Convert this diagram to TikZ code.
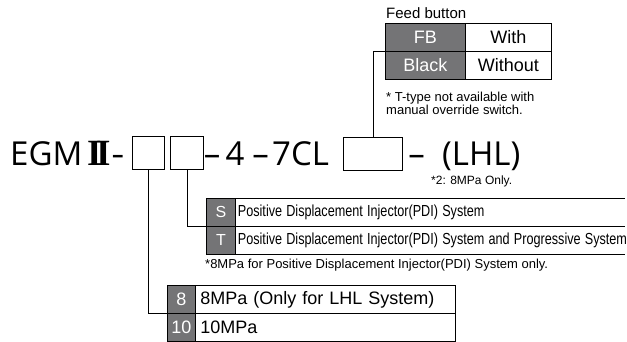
\documentclass[tikz,border=0pt]{standalone}
\usepackage{fontspec}
\setmainfont{Liberation Sans}
\newfontfamily\egmfont{Open Sans}
\newfontfamily\romanfont{Liberation Serif}
\definecolor{cellgray}{RGB}{116,116,118}
\newcommand{\narrowtext}[1]{\scalebox{0.79}[1]{#1}}

\begin{document}
\begin{tikzpicture}[x=1pt,y=1pt,yscale=-1,
	code/.style={font=\egmfont\fontsize{33}{33}\selectfont,inner sep=0pt,anchor=base west},
	slot/.style={draw,line width=1.3pt,minimum width=#1,minimum height=33pt,inner sep=0pt,anchor=north west},
	key/.style={draw,fill=cellgray,text=white,inner sep=0pt,anchor=north west,line width=0.8pt},
	val/.style={draw,inner sep=0pt,anchor=north west,line width=0.8pt,align=left},
	note/.style={inner sep=0pt,anchor=west,font=\fontsize{13}{13.5}\selectfont}]
			\useasboundingbox (0,0) rectangle (627,342);

			% feed button
			\node[note,font=\fontsize{15}{15}\selectfont] (feed) at (386,13) {Feed button};
			\node[key,minimum width=80pt,minimum height=28pt,font=\fontsize{18}{18}\selectfont] (fb) at (385,23) {FB};
			\node[val,minimum width=86pt,minimum height=28pt,font=\fontsize{18}{18}\selectfont] (with) at (465,23) {With};
			\node[key,minimum width=80pt,minimum height=28pt,font=\fontsize{18}{18}\selectfont] (black) at (385,51) {Black};
			\node[val,minimum width=86pt,minimum height=28pt,font=\fontsize{18}{18}\selectfont] (without) at (465,51) {Without};
			\node[note,align=left] (ttype) at (386,103.5) {* T-type not available with\\manual override switch.};

			% model code
			\node[code] (egm) at (10,166) {EGM};
			\node[code,font=\romanfont\bfseries\fontsize{37}{37}\selectfont] (roman) at (87,166) {I\kern-5pt I};
			\node[code,anchor=base] (dasha) at (118,166) {\scalebox{0.7}[1]{–}};
			\node[slot=32pt] (box1) at (132,136) {};
			\node[slot=33pt] (box2) at (170,136) {};
			\node[code,anchor=base] (dashb) at (212,166) {–};
			\node[code,anchor=base] (four) at (235,166) {4};
			\node[code,anchor=base] (dashc) at (260.5,166) {–};
			\node[code] (seven) at (272,166) {7CL};
			\node[slot=59pt] (box3) at (343,137) {};
			\node[code,anchor=base] (dashd) at (416.5,166) {–};
			\node[code] (lhl) at (442,166) {(LHL)};
			\node[note,font=\fontsize{12}{12}\selectfont] (only) at (431,181) {*2: 8MPa Only.};

			% system (open to the right)
			\node[key,minimum width=29pt,minimum height=28pt,font=\fontsize{16}{16}\selectfont] (s) at (206,198) {S};
			\node[val,draw=none,minimum width=389pt,minimum height=28pt,inner xsep=2.5pt,text width=384pt,font=\fontsize{16}{16}\selectfont] (sdesc) at (235,198) {\narrowtext{Positive Displacement Injector(PDI) System}};
			\node[key,minimum width=29pt,minimum height=28pt,font=\fontsize{16}{16}\selectfont] (t) at (206,226) {T};
			\node[val,draw=none,minimum width=389pt,minimum height=28pt,inner xsep=2.5pt,text width=384pt,font=\fontsize{16}{16}\selectfont] (tdesc) at (235,226) {\narrowtext{Positive Displacement Injector(PDI) System and Progressive System}};
			\draw[line width=0.8pt] (s.north east) -- (sdesc.north east);
			\draw[line width=0.8pt] (t.north east) -- (tdesc.north east);
			\draw[line width=0.8pt] (t.south east) -- (tdesc.south east);
			\node[note] (pdionly) at (205,265) {*8MPa for Positive Displacement Injector(PDI) System only.};

			% pressure
			\node[key,minimum width=28pt,minimum height=28pt,font=\fontsize{18}{18}\selectfont] (eight) at (167,285) {8};
			\node[val,minimum width=260pt,minimum height=28pt,inner xsep=5pt,text width=250pt,font=\fontsize{18}{18}\selectfont] (eightdesc) at (195,285) {8MPa (Only for LHL System)};
			\node[key,minimum width=28pt,minimum height=28pt,font=\fontsize{18}{18}\selectfont] (ten) at (167,313) {10};
			\node[val,minimum width=260pt,minimum height=28pt,inner xsep=5pt,text width=250pt,font=\fontsize{18}{18}\selectfont] (tendesc) at (195,313) {10MPa};

			% connectors
			\draw[line width=0.8pt] (box3.north) |- (black.north west);
			\draw[line width=0.8pt] (box2.south) |- (t.north west);
			\draw[line width=0.8pt] (box1.south) |- (ten.north west);
			\end{tikzpicture}
\end{document}
